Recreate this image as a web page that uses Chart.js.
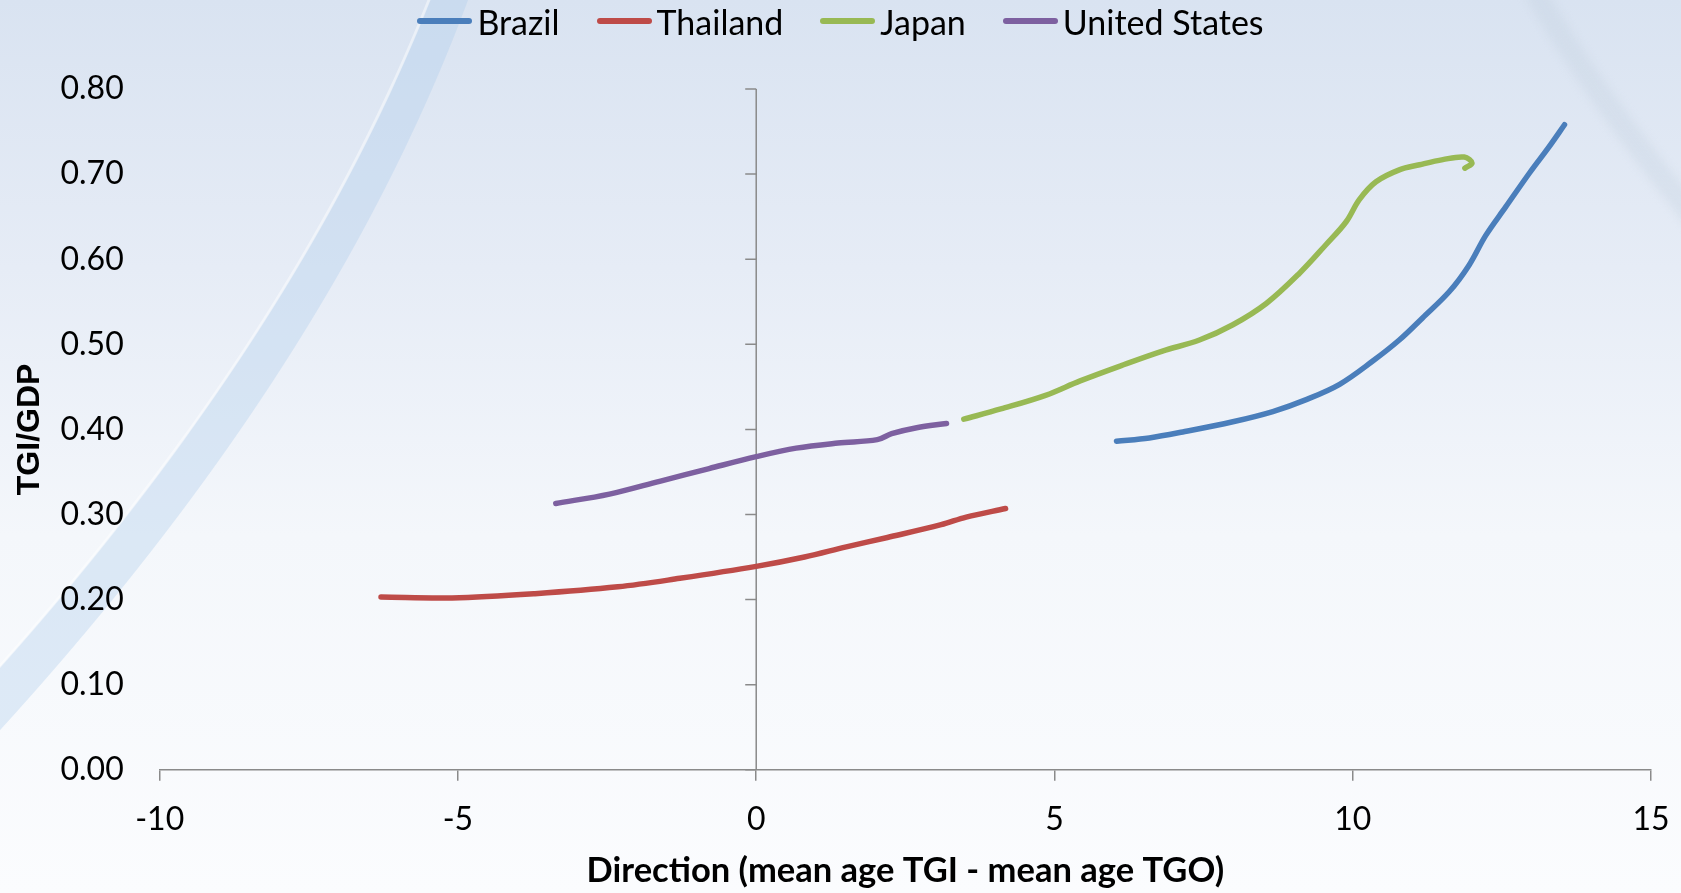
<!DOCTYPE html>
<html>
<head>
<meta charset="utf-8">
<script src="https://cdn.jsdelivr.net/npm/chart.js@4.4.1/dist/chart.umd.min.js"></script>
<style>
  html, body { margin: 0; padding: 0; width: 1681px; height: 893px; overflow: hidden; background: #fff; }
  #wrap { position: relative; width: 1681px; height: 893px; }
  canvas { display: block; }
  #legend {
    position: absolute; left: 0; top: 0; width: 1681px; height: 42px;
    display: flex; justify-content: center; align-items: center; gap: 37px;
    font-family: Lato, "Open Sans", sans-serif; font-size: 34px; color: #000;
  }
  .item { display: flex; align-items: center; white-space: nowrap; }
  .swatch { width: 55px; height: 6px; border-radius: 3px; margin-right: 5px; }
</style>
</head>
<body>
<div id="wrap">
  <canvas id="chart" width="1681" height="893"></canvas>
  <div id="legend"></div>
</div>
<script>
// Series: x = direction (mean age TGI - mean age TGO), y = TGI/GDP
const brazilX = [6.04, 6.59, 7.15, 7.99, 8.66, 9.22, 9.78, 10.33, 10.78, 11.17, 11.62, 11.95, 12.23, 12.57, 12.96, 13.29, 13.55];
const brazilY = [0.386, 0.390, 0.397, 0.409, 0.421, 0.435, 0.453, 0.480, 0.505, 0.531, 0.562, 0.593, 0.628, 0.662, 0.701, 0.732, 0.758];

const thailandX = [-6.29, -5.10, -3.71, -2.32, -1.28, 0.00, 0.81, 1.51, 2.20, 3.10, 3.52, 4.18];
const thailandY = [0.203, 0.202, 0.207, 0.215, 0.225, 0.239, 0.250, 0.262, 0.273, 0.288, 0.297, 0.307];

const japanX = [3.48, 4.10, 4.85, 5.43, 6.12, 6.81, 7.43, 7.99, 8.55, 9.10, 9.55, 9.89, 10.11, 10.39, 10.78, 11.12, 11.51, 11.87, 12.00, 11.88];
const japanY = [0.412, 0.424, 0.440, 0.457, 0.475, 0.492, 0.505, 0.523, 0.548, 0.583, 0.617, 0.644, 0.670, 0.691, 0.705, 0.711, 0.717, 0.720, 0.713, 0.707];

const usX = [-3.36, -2.46, -1.62, -0.79, 0.00, 0.67, 1.37, 2.03, 2.27, 2.69, 3.19];
const usY = [0.313, 0.324, 0.339, 0.354, 0.368, 0.378, 0.384, 0.388, 0.395, 0.402, 0.407];

const seriesNames = ['Brazil', 'Thailand', 'Japan', 'United States'];
const seriesColors = ['#4a7ebb', '#be4b48', '#98b954', '#7d60a0'];

const xTickValues = [-10, -5, 0, 5, 10, 15];
const xTickLabels = ['-10', '-5', '0', '5', '10', '15'];
const yTickValues = [0, 0.1, 0.2, 0.3, 0.4, 0.5, 0.6, 0.7, 0.8];
const yTickLabels = ['0.00', '0.10', '0.20', '0.30', '0.40', '0.50', '0.60', '0.70', '0.80'];

const xTitle = 'Direction (mean age TGI - mean age TGO)';
const yTitle = 'TGI/GDP';

const AXIS_COLOR = '#8a8a8a';
const TICK_FONT = { family: 'Lato, "Open Sans", sans-serif', size: 32 };

function pairs(xs, ys) { return xs.map((x, i) => ({ x, y: ys[i] })); }

const seriesData = [pairs(brazilX, brazilY), pairs(thailandX, thailandY), pairs(japanX, japanY), pairs(usX, usY)];

// Decorative swoosh: centre line and half-width as functions of canvas y
const swooshCentre = y => 449 - 0.3843 * y - 0.00037 * y * y;
const swooshHalf = y => 19 + 0.0135 * y;

// Slide-style backdrop: soft vertical gradient with pale decorative arcs
const backdrop = {
  id: 'backdrop',
  beforeDraw(chart) {
    const { ctx, width, height } = chart;
    ctx.save();
    const g = ctx.createLinearGradient(0, 0, 0, height);
    g.addColorStop(0, '#d9e3f1');
    g.addColorStop(0.3, '#e6ecf6');
    g.addColorStop(0.6, '#f4f7fb');
    g.addColorStop(1, '#fbfcfe');
    ctx.fillStyle = g;
    ctx.fillRect(0, 0, width, height);

    // broad swoosh on the left
    const ys = [];
    for (let y = -20; y <= 780; y += 10) ys.push(y);
    ctx.beginPath();
    ys.forEach((y, i) => {
      const x = swooshCentre(y) - swooshHalf(y);
      if (i === 0) ctx.moveTo(x, y); else ctx.lineTo(x, y);
    });
    ys.slice().reverse().forEach(y => ctx.lineTo(swooshCentre(y) + swooshHalf(y), y));
    ctx.closePath();
    ctx.fillStyle = 'rgba(175, 205, 236, 0.36)';
    ctx.fill();

    // light rim along its outer edge
    ctx.beginPath();
    ys.forEach((y, i) => {
      const x = swooshCentre(y) - swooshHalf(y) - 1;
      if (i === 0) ctx.moveTo(x, y); else ctx.lineTo(x, y);
    });
    ctx.strokeStyle = 'rgba(255, 255, 255, 0.45)';
    ctx.lineWidth = 3;
    ctx.stroke();

    // faint arc in the upper right corner
    ctx.filter = 'blur(4px)';
    ctx.beginPath();
    ctx.moveTo(1534, -10);
    ctx.quadraticCurveTo(1590, 90, 1700, 225);
    ctx.strokeStyle = 'rgba(190, 204, 220, 0.28)';
    ctx.lineWidth = 22;
    ctx.stroke();
    ctx.filter = 'none';
    ctx.restore();
  }
};

// Vertical axis line crossing at x = 0, with outward tick marks
const crossAxis = {
  id: 'crossAxis',
  beforeDatasetsDraw(chart) {
    const { ctx, scales: { x, y } } = chart;
    const px = x.getPixelForValue(0);
    ctx.save();
    ctx.strokeStyle = AXIS_COLOR;
    ctx.lineWidth = 1.5;
    ctx.beginPath();
    ctx.moveTo(px, y.getPixelForValue(y.min));
    ctx.lineTo(px, y.getPixelForValue(y.max));
    y.ticks.forEach(t => {
      const py = y.getPixelForValue(t.value);
      ctx.moveTo(px - 11, py);
      ctx.lineTo(px, py);
    });
    ctx.stroke();
    ctx.restore();
  }
};

const chart = new Chart(document.getElementById('chart'), {
  type: 'scatter',
  data: {
    datasets: seriesNames.map((name, i) => ({
      label: name,
      data: seriesData[i],
      showLine: true,
      borderColor: seriesColors[i],
      backgroundColor: seriesColors[i],
      borderWidth: 5.5,
      borderCapStyle: 'round',
      borderJoinStyle: 'round',
      pointRadius: 0,
      pointHoverRadius: 0,
      tension: 0.35
    }))
  },
  options: {
    responsive: false,
    animation: false,
    events: [],
    layout: { padding: { top: 89, right: 30, bottom: 0, left: 0 } },
    plugins: { legend: { display: false }, tooltip: { enabled: false } },
    scales: {
      x: {
        type: 'linear',
        min: -10, max: 15,
        afterBuildTicks: s => { s.ticks = xTickValues.map(v => ({ value: v })); },
        afterFit: s => { s.height = 893 - 769.8; s.paddingLeft = 0; s.paddingRight = 0; },
        grid: { display: true, drawOnChartArea: false, drawTicks: true, tickLength: 11, color: AXIS_COLOR, lineWidth: 1.5 },
        border: { display: true, color: AXIS_COLOR, width: 1.5 },
        ticks: {
          color: '#000', font: TICK_FONT, padding: 20, maxRotation: 0,
          callback: v => xTickLabels[xTickValues.indexOf(v)]
        },
        title: {
          display: true, text: xTitle, color: '#000',
          font: { family: 'Lato, "Open Sans", sans-serif', size: 34.5, weight: 'bold' },
          padding: { top: 0, bottom: 1 }
        }
      },
      y: {
        type: 'linear',
        min: 0, max: 0.8,
        afterBuildTicks: s => { s.ticks = yTickValues.map(v => ({ value: v })); },
        afterFit: s => { s.width = 159.7; s.paddingTop = 0; s.paddingBottom = 0; },
        grid: { display: false, drawTicks: false },
        border: { display: false },
        ticks: {
          color: '#000', font: TICK_FONT, padding: 36,
          callback: v => yTickLabels[yTickValues.findIndex(t => Math.abs(t - v) < 1e-9)]
        },
        title: {
          display: true, text: yTitle, color: '#000',
          font: { family: '"Liberation Sans", Arial, sans-serif', size: 32, weight: 'bold' },
          padding: { top: 11, bottom: 0 }
        }
      }
    }
  },
  plugins: [backdrop, crossAxis]
});

// Legend row built from the chart's datasets
const legend = document.getElementById('legend');
chart.data.datasets.forEach(ds => {
  const item = document.createElement('div');
  item.className = 'item';
  const sw = document.createElement('span');
  sw.className = 'swatch';
  sw.style.background = ds.borderColor;
  const label = document.createElement('span');
  label.textContent = ds.label;
  item.appendChild(sw);
  item.appendChild(label);
  legend.appendChild(item);
});
</script>
</body>
</html>
